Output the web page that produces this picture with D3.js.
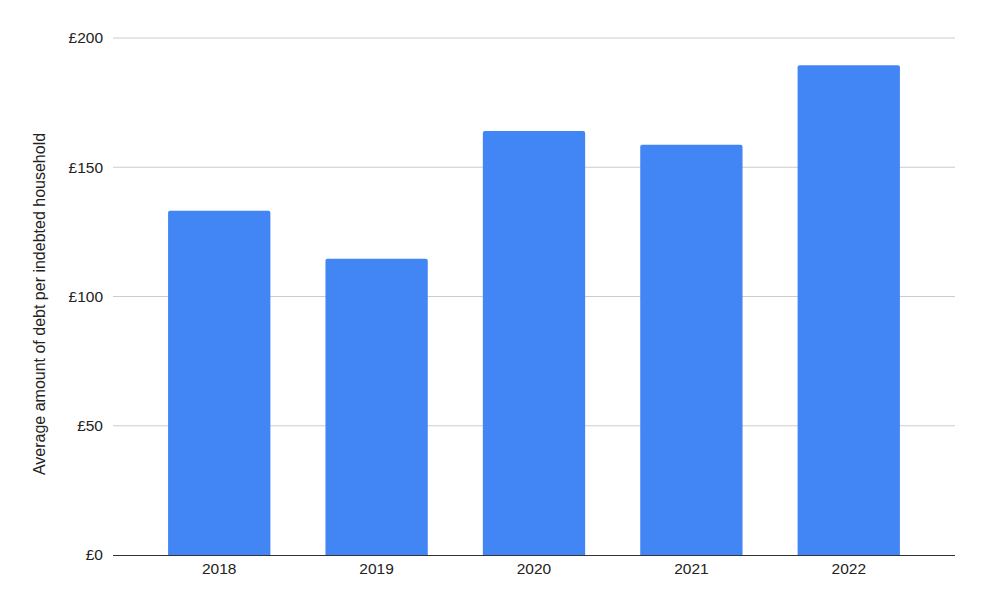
<!DOCTYPE html>
<html><head><meta charset="utf-8">
<script src="https://cdn.jsdelivr.net/npm/d3@7"></script>
<style>body{margin:0;background:#fff}svg{display:block}text{font-family:"Liberation Sans",Arial,sans-serif;fill:#222}</style>
</head><body><svg id="c" width="986" height="609"></svg>
<script>
const years = ["2018","2019","2020","2021","2022"];
const debt = [133.2, 114.6, 164.0, 158.7, 189.5];
const yTicks = [0, 50, 100, 150, 200];
const yTitle = "Average amount of debt per indebted household";

const svg = d3.select("#c");
const L = 113, R = 955, T = 38, B = 555;
const x = d3.scaleBand().domain(years).range([L, R]).padding(0.35);
const y = d3.scaleLinear().domain([0, 200]).range([B, T]);

svg.append("g").selectAll("line").data(yTicks.filter(d => d > 0)).join("line")
  .attr("x1", L).attr("x2", R).attr("y1", d => y(d)).attr("y2", d => y(d))
  .attr("stroke", "#cccccc").attr("stroke-width", 1);

svg.append("g").selectAll("text").data(yTicks).join("text")
  .attr("x", 103).attr("y", d => y(d)).attr("dy", "0.35em")
  .attr("text-anchor", "end").attr("font-size", 15.5)
  .text(d => "£" + d);

svg.append("g").selectAll("path").data(years).join("path")
  .attr("fill", "#4285f4")
  .attr("d", (d, i) => {
    const x0 = x(d), w = x.bandwidth(), y0 = y(debt[i]), r = 2;
    return `M${x0},${B}V${y0 + r}Q${x0},${y0} ${x0 + r},${y0}H${x0 + w - r}Q${x0 + w},${y0} ${x0 + w},${y0 + r}V${B}Z`;
  });

svg.append("line").attr("x1", L).attr("x2", R).attr("y1", B + 0.5).attr("y2", B + 0.5)
  .attr("stroke", "#333").attr("stroke-width", 1);

svg.append("g").selectAll("text").data(years).join("text")
  .attr("x", d => x(d) + x.bandwidth() / 2).attr("y", 569).attr("dy", "0.35em")
  .attr("text-anchor", "middle").attr("font-size", 15.5).text(d => d);

svg.append("text").attr("transform", "translate(39,304) rotate(-90)")
  .attr("dy", "0.35em").attr("text-anchor", "middle").attr("font-size", 16).text(yTitle);
</script></body></html>
